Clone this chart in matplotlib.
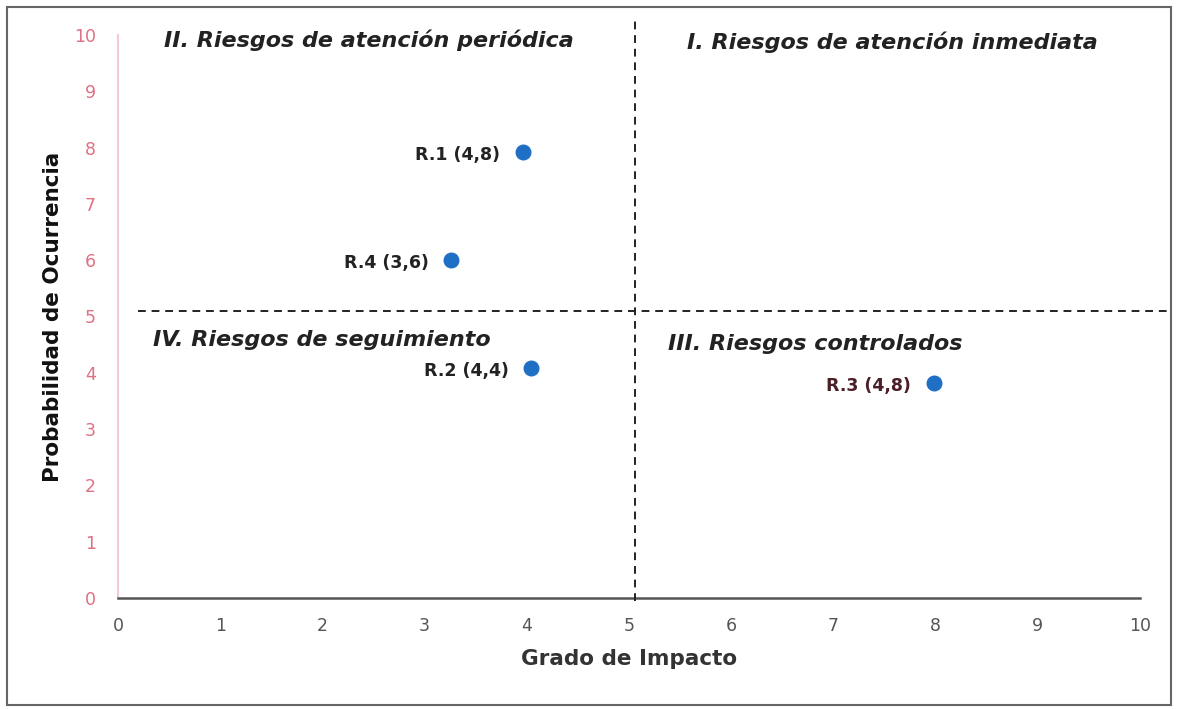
import matplotlib
matplotlib.use('Agg')
import matplotlib.pyplot as plt
from matplotlib.patches import Rectangle

# --- Data ---
risk_labels = ["R.1 (4,8)", "R.4 (3,6)", "R.2 (4,4)", "R.3 (4,8)"]
impact = [3.96, 3.26, 4.04, 7.98]
probability = [7.92, 6.0, 4.09, 3.82]
label_colors = ["#222222", "#222222", "#222222", "#4a1f27"]

quadrant_names = ["II. Riesgos de atención periódica", "I. Riesgos de atención inmediata",
                  "IV. Riesgos de seguimiento", "III. Riesgos controlados"]
quadrant_x = [2.45, 7.58, 0.34, 5.38]
quadrant_y = [9.91, 9.88, 4.58, 4.51]
quadrant_ha = ["center", "center", "left", "left"]

ticks = list(range(0, 11))
x_split = 5.06
y_split = 5.1

PINK = "#e07084"
BLUE = "#1f6fc5"
FONT = "DejaVu Sans"

fig = plt.figure(figsize=(11.78, 7.09), dpi=100)
ax = fig.add_axes([0.1002, 0.1566, 0.8675, 0.794])

ax.scatter(impact, probability, s=110, color=BLUE, zorder=4)
for lab, x, y, c in zip(risk_labels, impact, probability, label_colors):
    ax.annotate(lab, (x, y), xytext=(-16, -2), textcoords='offset points',
                ha='right', va='center', fontsize=12.5, fontweight='bold',
                color=c, family=FONT)

# quadrant dividers (run a bit past the axes like the original)
ax.plot([x_split, x_split], [-0.05, 10.3], linestyle=(0, (4, 3)), color='#222222',
        linewidth=1.4, clip_on=False, zorder=3)
ax.plot([0.2, 10.3], [y_split, y_split], linestyle=(0, (4, 3)), color='#222222',
        linewidth=1.4, clip_on=False, zorder=3)

for name, x, y, ha in zip(quadrant_names, quadrant_x, quadrant_y, quadrant_ha):
    ax.text(x, y, name, ha=ha, va='center', fontsize=16, fontweight='bold',
            style='italic', color='#222222', family=FONT)

ax.set_xlim(0, 10)
ax.set_ylim(0, 10)
ax.set_xticks(ticks)
ax.set_yticks(ticks)
ax.tick_params(axis='both', length=0)
ax.tick_params(axis='x', colors='#555555', labelsize=12.5, pad=14)
ax.tick_params(axis='y', colors=PINK, labelsize=12.5, pad=16)
for t in ax.get_xticklabels() + ax.get_yticklabels():
    t.set_family(FONT)

for s in ['top', 'right']:
    ax.spines[s].set_visible(False)
ax.spines['left'].set_color('#f4c9d2')
ax.spines['left'].set_linewidth(1.5)
ax.spines['bottom'].set_color('#555555')
ax.spines['bottom'].set_linewidth(1.8)

ax.set_xlabel("Grado de Impacto", fontsize=15.5, fontweight='bold', color='#333333',
              family=FONT, labelpad=10)
ax.set_ylabel("Probabilidad de Ocurrencia", fontsize=15.5, fontweight='bold',
              color='#111111', family=FONT, labelpad=8)

# outer frame
fig.patches.append(Rectangle((0.006, 0.006), 0.988, 0.984, transform=fig.transFigure,
                             fill=False, edgecolor='#666666', linewidth=1.5))

fig.savefig("out.png", dpi=100)
